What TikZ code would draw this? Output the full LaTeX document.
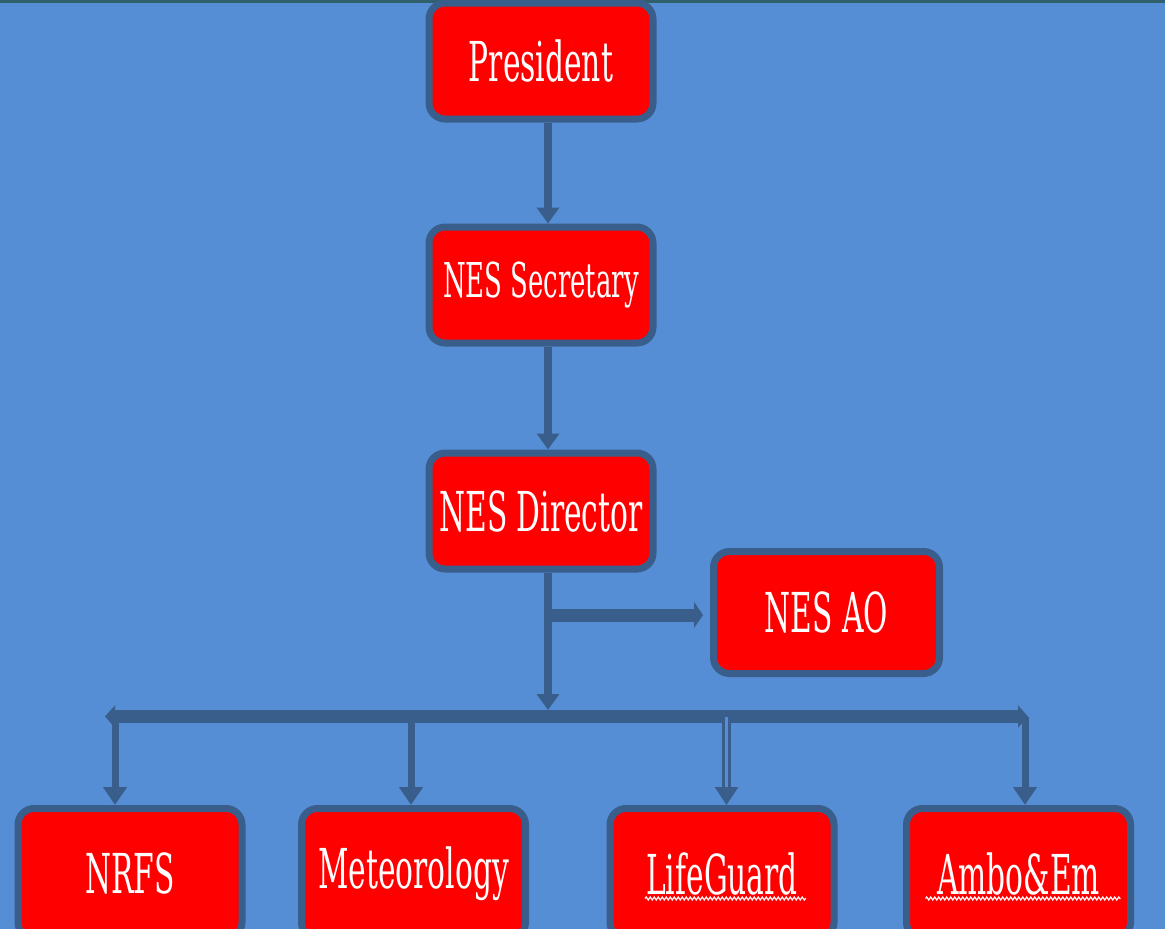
\documentclass[tikz,border=0pt]{standalone}
\usepackage{fontspec}
\usetikzlibrary{arrows.meta, decorations.pathmorphing}
\newfontfamily\chartfont[FakeStretch=0.6]{DejaVu Serif Condensed}
\definecolor{slide}{RGB}{86,142,213}
\definecolor{edge}{RGB}{58,94,139}
\definecolor{strip}{RGB}{47,96,108}

\begin{document}
\begin{tikzpicture}[x=1pt, y=-1pt,
    office/.style={draw=edge, line width=7pt, fill=red, rounded corners=16pt,
        minimum width=224pt, minimum height=116pt, inner sep=0pt, text=white,
        font=\chartfont\fontsize{55}{60}\selectfont},
    link/.style={draw=edge, line width=8pt, -{Triangle[width=22pt, length=16pt]}},
    drop/.style={draw=edge, line width=7pt, -{Triangle[width=23pt, length=18pt]}},
    squiggle/.style={white, line width=1.2pt, decorate,
        decoration={snake, amplitude=1.5pt, segment length=4pt}}]

    \useasboundingbox (0, 0) rectangle (1165, 929);
    \clip (0, 0) rectangle (1165, 929);
    \fill[slide] (0, 0) rectangle (1165, 929);
    \fill[strip] (0, 0) rectangle (1165, 2.5);

    \node[office] (pres) at (541, 61) {President};
    \node[office, font=\chartfont\fontsize{48}{52}\selectfont] (sec) at (541, 285) {NES Secretary};
    \node[office] (dir) at (541, 511) {NES Director};
    \node[office, minimum width=226pt, minimum height=122pt] (ao) at (826.5, 612.5) {NES AO};

    \node[office, minimum height=130pt] (nrfs) at (130, 873.5) {NRFS};
    \node[office, minimum height=130pt] (met) at (413.5, 873.5) {Meteorology};
    \node[office, minimum height=130pt] (life) at (722, 873.5) {LifeGuard};
    \node[office, minimum height=130pt] (ambo) at (1018.5, 873.5) {Ambo\&Em};

    % spelling marks under the last two
    \draw[squiggle] ([shift={(-77, 25)}]life.center) -- ([shift={(84, 25)}]life.center);
    \draw[squiggle] ([shift={(-93, 25)}]ambo.center) -- ([shift={(102, 25)}]ambo.center);

    \draw[link] ([xshift=7pt]pres.south) -- ([xshift=7pt]sec.north);
    \draw[link] ([xshift=7pt]sec.south) -- ([xshift=7pt]dir.north);

    % bus under the director
    \coordinate (busL) at (105, 716.5);
    \coordinate (busR) at (1028, 716.5);
    \coordinate (tee) at (548, 615);
    \draw[link, shorten >=6.5pt] ([xshift=7pt]dir.south) -- ([xshift=7pt]dir.south |- busL);
    \draw[draw=edge, line width=13pt, -{Triangle[width=26pt, length=9pt]}, shorten >=7pt] (tee) -- (tee -| ao.west);
    \draw[draw=edge, line width=13pt, {Triangle[width=22pt, length=10pt]}-{Triangle[width=22pt, length=10pt]}] (busL) -- (busR);

    \coordinate (d1) at (115, 716.5);
    \coordinate (d2) at (411, 716.5);
    \coordinate (d3) at (726.5, 716.5);
    \coordinate (d4) at (1025, 716.5);
    \draw[drop] (d1) -- (d1 |- nrfs.north);
    \draw[drop] (d2) -- (d2 |- met.north);
    \draw[drop, line width=3pt, double=slide, double distance=3pt] (d3) -- (d3 |- life.north);
    \draw[drop] (d4) -- (d4 |- ambo.north);
\end{tikzpicture}
\end{document}
